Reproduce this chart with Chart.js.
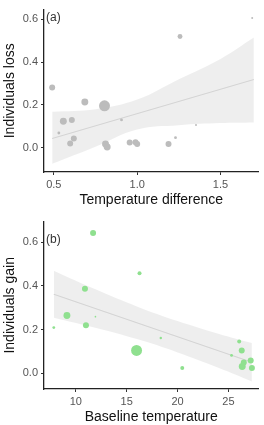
<!DOCTYPE html>
<html>
<head>
<meta charset="utf-8">
<script src="https://cdn.jsdelivr.net/npm/chart.js@4/dist/chart.umd.min.js"></script>
<style>
  html, body { margin: 0; padding: 0; background: #fff; }
  .panel { position: absolute; left: 0; width: 264px; }
  #panelA { top: 0; height: 212px; }
  #panelB { top: 212px; height: 213px; }
</style>
</head>
<body>
<div class="panel" id="panelA"><canvas id="chartA" width="264" height="212"></canvas></div>
<div class="panel" id="panelB"><canvas id="chartB" width="264" height="213"></canvas></div>
<script>
'use strict';

// (a) individuals loss vs temperature difference
const lossTempDiff = [0.49, 0.53, 0.557, 0.608, 0.62, 0.598, 0.686, 0.804, 0.81, 0.82, 0.906, 0.955, 0.99, 1.0, 1.188, 1.23, 1.257, 1.353, 1.69];
const lossValue    = [0.281, 0.069, 0.124, 0.13, 0.043, 0.02, 0.214, 0.196, 0.017, 0.003, 0.13, 0.024, 0.025, 0.017, 0.017, 0.047, 0.52, 0.106, 0.607];
const lossWeight   = [9, 2, 12, 9, 9, 9, 12, 30, 12, 12, 2, 9, 9, 9, 9, 2, 6, 1, 1];
const lossFitX     = [0.49, 1.70];
const lossFitY     = [0.043, 0.319];
const lossBandX    = [0.49, 0.75, 1.0, 1.25, 1.5, 1.70];
const lossBandHi   = [0.168, 0.18, 0.225, 0.32, 0.415, 0.515];
const lossBandLo   = [-0.075, 0.005, 0.085, 0.105, 0.115, 0.118];
const lossXTicks   = [0.5, 1.0, 1.5];

// (b) individuals gain vs baseline temperature
const gainBaseTemp = [7.84, 9.13, 10.9, 11.0, 11.7, 11.93, 15.97, 16.26, 18.35, 20.46, 25.3, 26.05, 26.3, 26.35, 26.5, 27.18, 27.3];
const gainValue    = [0.209, 0.264, 0.387, 0.219, 0.643, 0.259, 0.104, 0.458, 0.161, 0.024, 0.081, 0.145, 0.104, 0.03, 0.049, 0.058, 0.024];
const gainWeight   = [2, 12, 9, 9, 9, 0.7, 30, 4, 1.5, 4, 2, 4, 9, 12, 9, 9, 9];
const gainFitX     = [7.84, 27.3];
const gainFitY     = [0.362, 0.05];
const gainBandX    = [7.84, 12, 16, 20, 24, 27.3];
const gainBandHi   = [0.47, 0.383, 0.306, 0.239, 0.181, 0.138];
const gainBandLo   = [0.254, 0.207, 0.156, 0.095, 0.025, -0.038];
const gainXTicks   = [10, 15, 20, 25];

const yTicks = [0.0, 0.2, 0.4, 0.6];

const FONT = "'Liberation Sans', Arial, sans-serif";

function pts(xs, ys) {
  return xs.map((x, i) => ({ x: x, y: ys[i] }));
}

// draws the panel letter in the top left corner of the plot
const panelLabel = {
  id: 'panelLabel',
  afterDatasetsDraw(chart, args, opts) {
    const ctx = chart.ctx;
    const y = chart.scales.y.getPixelForValue(0.61);
    ctx.save();
    ctx.font = '12px ' + FONT;
    ctx.fillStyle = '#333';
    ctx.textBaseline = 'middle';
    ctx.fillText(opts.text, chart.chartArea.left + 2, y);
    ctx.restore();
  }
};

function makeChart(id, cfg) {
  const dotR = w => Math.sqrt(w);
  return new Chart(document.getElementById(id), {
    type: 'scatter',
    data: {
      datasets: [
        {
          type: 'scatter',
          data: pts(cfg.x, cfg.y),
          pointRadius: cfg.w.map(dotR),
          pointBackgroundColor: cfg.color,
          pointBorderWidth: 0,
          order: 0
        },
        {
          type: 'line',
          data: pts(cfg.fitX, cfg.fitY),
          borderColor: '#d4d4d4',
          borderWidth: 1.2,
          pointRadius: 0,
          fill: false,
          order: 1
        },
        {
          type: 'line',
          data: pts(cfg.bandX, cfg.bandHi),
          borderWidth: 0,
          borderColor: 'rgba(0,0,0,0)',
          pointRadius: 0,
          tension: 0.4,
          fill: false,
          order: 2
        },
        {
          type: 'line',
          data: pts(cfg.bandX, cfg.bandLo),
          borderWidth: 0,
          borderColor: 'rgba(0,0,0,0)',
          backgroundColor: 'rgba(0,0,0,0.065)',
          pointRadius: 0,
          tension: 0.4,
          fill: '-1',
          order: 3
        }
      ]
    },
    options: {
      responsive: false,
      animation: false,
      devicePixelRatio: 1,
      layout: { padding: { top: cfg.padTop, right: 1, left: 0, bottom: 0 } },
      plugins: {
        legend: { display: false },
        tooltip: { enabled: false },
        panelLabel: { text: cfg.label }
      },
      scales: {
        x: {
          type: 'linear',
          min: cfg.xMin,
          max: cfg.xMax,
          afterBuildTicks: s => { s.ticks = cfg.xTicks.map(v => ({ value: v })); },
          afterFit: s => { s.height = cfg.xAxisH; },
          border: { display: true, color: '#222', width: 1.3 },
          grid: { drawOnChartArea: false, drawTicks: true, tickLength: 3, color: '#333' },
          ticks: {
            color: '#555',
            padding: 3,
            font: { family: FONT, size: 11 },
            callback: v => cfg.xFmt(v)
          },
          title: {
            display: true,
            text: cfg.xTitle,
            color: '#111',
            font: { family: FONT, size: 14, lineHeight: 1 },
            padding: { top: 0, bottom: cfg.xTitlePad }
          }
        },
        y: {
          type: 'linear',
          min: cfg.yMin,
          max: cfg.yMax,
          afterBuildTicks: s => { s.ticks = yTicks.map(v => ({ value: v })); },
          afterFit: s => { s.width = 44; },
          border: { display: true, color: '#222', width: 1.3 },
          grid: { drawOnChartArea: false, drawTicks: true, tickLength: 3, color: '#333' },
          ticks: {
            color: '#555',
            padding: 3,
            font: { family: FONT, size: 11 },
            callback: v => v.toFixed(1)
          },
          title: {
            display: true,
            text: cfg.yTitle,
            color: '#111',
            font: { family: FONT, size: 14, lineHeight: 1 },
            padding: { top: 3, bottom: 0 }
          }
        }
      }
    },
    plugins: [panelLabel]
  });
}

makeChart('chartA', {
  x: lossTempDiff, y: lossValue, w: lossWeight,
  fitX: lossFitX, fitY: lossFitY,
  bandX: lossBandX, bandHi: lossBandHi, bandLo: lossBandLo,
  color: '#bcbcbc',
  xMin: 0.441, xMax: 1.728, yMin: -0.1135, yMax: 0.6457,
  xTicks: lossXTicks, xFmt: v => v.toFixed(1),
  xTitle: 'Temperature difference', yTitle: 'Individuals loss',
  label: '(a)', padTop: 3, xAxisH: 40, xTitlePad: 5
});

makeChart('chartB', {
  x: gainBaseTemp, y: gainValue, w: gainWeight,
  fitX: gainFitX, fitY: gainFitY,
  bandX: gainBandX, bandHi: gainBandHi, bandLo: gainBandLo,
  color: '#8fe08f',
  xMin: 6.878, xMax: 27.95, yMin: -0.0729, yMax: 0.695,
  xTicks: gainXTicks, xFmt: v => String(v),
  xTitle: 'Baseline temperature', yTitle: 'Individuals gain',
  label: '(b)', padTop: 4, xAxisH: 36, xTitlePad: 1
});
</script>
</body>
</html>
